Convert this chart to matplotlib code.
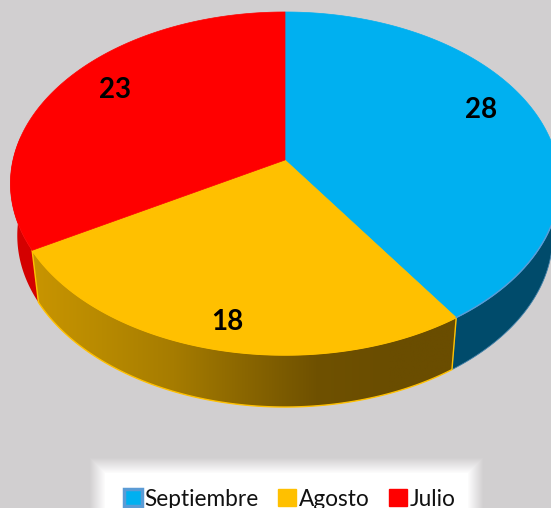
import numpy as np
import matplotlib
matplotlib.use('Agg')
import matplotlib.pyplot as plt
from matplotlib.patches import Polygon, Patch
from matplotlib.colors import LinearSegmentedColormap

plt.rcParams['font.family'] = ['Lato', 'DejaVu Sans']

labels = ['Septiembre', 'Agosto', 'Julio']
values = [28, 18, 23]
top_colors = ['#00b0f0', '#ffc000', '#ff0000']

BG = '#d1cfd0'
CX, CY = 285, 160
KX, KY, PERSP = 272, 168.3, 0.137
DEPTH = 52
SHRINK = 0.975


def rim(a0, a1, n=200):
	# clockwise angles from the top of the pie, projected with some perspective
	t = np.radians(np.linspace(a0, a1, n))
	u, v = np.sin(t), np.cos(t)
	w = 1 + PERSP * v
	return np.column_stack([CX + KX * u / w, CY - KY * v / w])


def side(a0, a1):
	top = rim(a0, a1)
	low = top.copy()
	low[:, 0] = CX + (top[:, 0] - CX) * SHRINK
	low[:, 1] = top[:, 1] + DEPTH
	return np.vstack([top, low[::-1]])


fig = plt.figure(figsize=(5.51, 5.08), dpi=100, facecolor=BG)
ax = fig.add_axes([0, 0, 1, 1])
ax.set_xlim(0, 551)
ax.set_ylim(508, 0)
ax.axis('off')

# angles of the slices
edges = np.concatenate([[0], np.cumsum(values)]) / sum(values) * 360

# soft white box behind the legend
yy, xx = np.mgrid[440:508, 70:500]
d = np.minimum.reduce([xx - 97, 475 - xx, yy - 465, np.full(xx.shape, 30)])
alpha = np.clip((d + 8) / 16, 0, 1)
box = np.ones(xx.shape + (4,))
box[..., 3] = alpha
ax.imshow(box, extent=(70, 500, 508, 440), aspect='auto', zorder=1)

# side walls
ax.add_patch(Polygon(side(90, edges[1]), closed=True, fc='#004b6b', ec='#3f7fa8', lw=0.6, zorder=2))
ax.add_patch(Polygon(side(edges[2], 278), closed=True, fc='#d40000', ec='none', zorder=2))

cmap = LinearSegmentedColormap.from_list('wall', ['#c99500', '#b88a00', '#a67c00', '#8a6600', '#6f5100', '#6a4d00', '#6a4d00'])
grad = ax.imshow(np.linspace(0, 1, 256).reshape(1, -1), cmap=cmap, extent=(30, 460, 420, 240), aspect='auto', zorder=2)
wall = Polygon(side(edges[1], edges[2]), closed=True, fc='none', ec='#ffc000', lw=1, zorder=3)
ax.add_patch(wall)
grad.set_clip_path(wall)

# top faces
for i in range(3):
	pts = np.vstack([[CX, CY], rim(edges[i], edges[i + 1])])
	ax.add_patch(Polygon(pts, closed=True, fc=top_colors[i], ec=top_colors[i], lw=0.5, zorder=4))
ax.plot(*rim(90, edges[1]).T, color='#5b9bd5', lw=1, zorder=5)

ax.set_xlim(0, 551)
ax.set_ylim(508, 0)

# value labels
ax.text(481, 110, str(values[0]), fontsize=20, fontweight='bold', color='black', ha='center', va='center', zorder=6)
ax.text(227, 322, str(values[1]), fontsize=20, fontweight='bold', color='black', ha='center', va='center', zorder=6)
ax.text(115, 90, str(values[2]), fontsize=20, fontweight='bold', color='black', ha='center', va='center', zorder=6)

handles = [
	Patch(fc=top_colors[0], ec='#5b9bd5', lw=2.5),
	Patch(fc=top_colors[1], ec=top_colors[1], lw=1),
	Patch(fc=top_colors[2], ec=top_colors[2], lw=1),
]
leg = ax.legend(handles, labels, loc='lower center', bbox_to_anchor=(0.5255, -0.003), ncol=3, frameon=False,
	fontsize=16.3, handlelength=0.8, handleheight=0.8, handletextpad=0.12, columnspacing=0.85,
	borderpad=0, borderaxespad=0, labelcolor='#111111')
leg.set_zorder(6)

fig.savefig('out.png', dpi=100, facecolor=BG)
